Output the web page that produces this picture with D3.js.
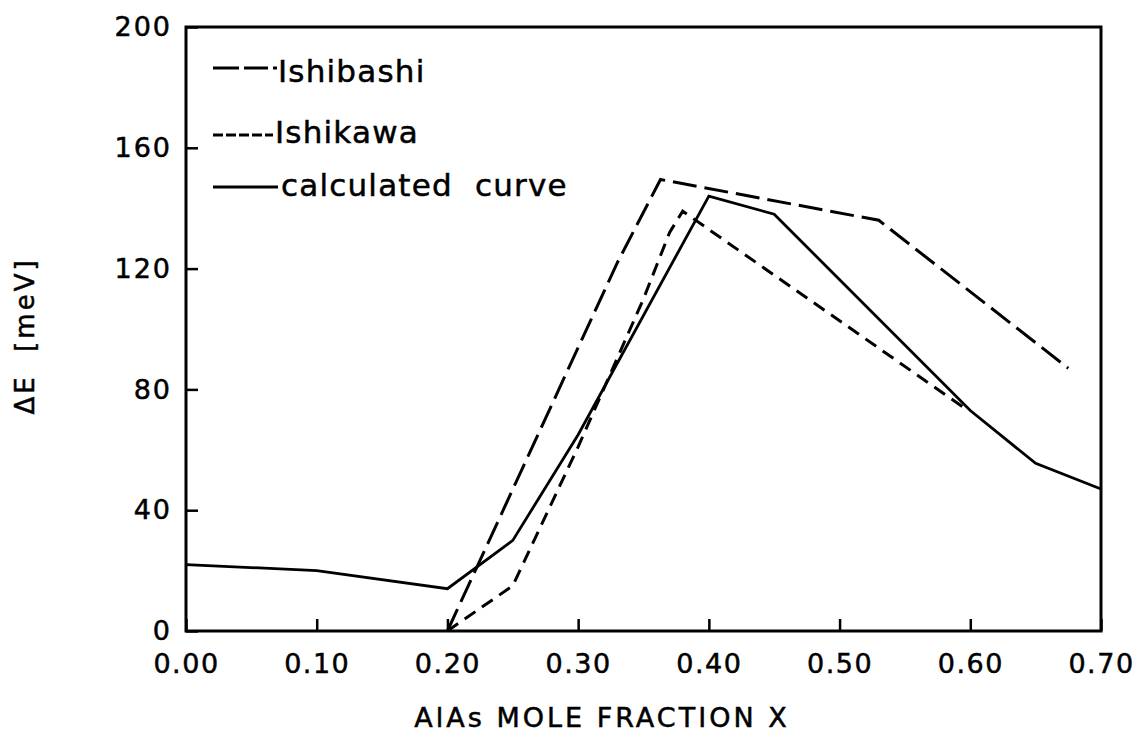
<!DOCTYPE html>
<html>
<head>
<meta charset="utf-8">
<script src="https://cdn.jsdelivr.net/npm/d3@7"></script>
<style>
  html, body { margin: 0; padding: 0; background: #fff; }
  svg { display: block; font-family: "DejaVu Sans", sans-serif; }
  text { fill: #000; stroke: #000; stroke-width: 0.5px; }
</style>
</head>
<body>
<svg id="chart" width="1137" height="743"></svg>
<script>
// AlAs mole fraction (x) and band offset ΔE [meV]
const xTicks = [0.00, 0.10, 0.20, 0.30, 0.40, 0.50, 0.60, 0.70];
const yTicks = [0, 40, 80, 120, 160, 200];

const calcX = [0.00, 0.10, 0.20, 0.25, 0.30, 0.40, 0.45, 0.60, 0.65, 0.70];
const calcY = [22, 20, 14, 30, 65, 144, 138, 73, 55.5, 47];

const ishibashiX = [0.20, 0.33, 0.363, 0.53, 0.675];
const ishibashiY = [0, 122, 149.5, 136, 87];

const ishikawaX = [0.20, 0.25, 0.30, 0.35, 0.37, 0.38, 0.595];
const ishikawaY = [0, 15, 61, 110, 132, 139, 74];

const seriesNames = ["Ishibashi", "Ishikawa", "calculated curve"];

const svg = d3.select("#chart");
const plotLeft = 186, plotRight = 1101, plotTop = 27, plotBottom = 631;

const x = d3.scaleLinear().domain([0, 0.7]).range([plotLeft, plotRight]);
const y = d3.scaleLinear().domain([0, 200]).range([plotBottom, plotTop]);

// y axis: ticks point inward, labels outside
const yAxis = svg.append("g")
  .attr("transform", `translate(${plotLeft},0)`)
  .call(d3.axisLeft(y).tickValues(yTicks).tickSize(-12).tickPadding(14).tickFormat(d3.format("d")));
yAxis.select(".domain").remove();
yAxis.selectAll("line").attr("stroke", "#000").attr("stroke-width", 2.5);
yAxis.selectAll("text")
  .attr("font-size", 27).attr("letter-spacing", 2)
  .attr("font-family", "DejaVu Sans");

// x axis
const xAxis = svg.append("g")
  .attr("transform", `translate(0,${plotBottom})`)
  .call(d3.axisBottom(x).tickValues(xTicks).tickSize(-12).tickPadding(23).tickFormat(d3.format(".2f")));
xAxis.select(".domain").remove();
xAxis.selectAll("line").attr("stroke", "#000").attr("stroke-width", 2.5);
xAxis.selectAll("text")
  .attr("font-size", 27).attr("letter-spacing", 1.5)
  .attr("font-family", "DejaVu Sans");

// plot frame
svg.append("rect")
  .attr("x", plotLeft).attr("y", plotTop)
  .attr("width", plotRight - plotLeft).attr("height", plotBottom - plotTop)
  .attr("fill", "none").attr("stroke", "#000").attr("stroke-width", 3);

const line = d3.line().x(d => x(d[0])).y(d => y(d[1]));

function drawSeries(xs, ys, dash, width) {
  svg.append("path")
    .datum(xs.map((v, i) => [v, ys[i]]))
    .attr("d", line)
    .attr("fill", "none")
    .attr("stroke", "#000")
    .attr("stroke-width", width)
    .attr("stroke-linejoin", "miter")
    .attr("stroke-dasharray", dash);
}

drawSeries(ishibashiX, ishibashiY, "24,8", 3);
drawSeries(ishikawaX, ishikawaY, "13,8", 3);
drawSeries(calcX, calcY, null, 2.8);

// legend
const legend = [
  { name: seriesNames[0], y: 68, dash: "26,5,24,5,5,0", x2: 277, tx: 278, ty: 82 },
  { name: seriesNames[1], y: 135, dash: "10,3", x2: 273, tx: 275, ty: 143 },
  { name: seriesNames[2], y: 187, dash: null, x2: 278, tx: 281, ty: 196 }
];
legend.forEach(l => {
  svg.append("line")
    .attr("x1", 213).attr("x2", l.x2)
    .attr("y1", l.y).attr("y2", l.y)
    .attr("stroke", "#000").attr("stroke-width", 3)
    .attr("stroke-dasharray", l.dash);
  svg.append("text")
    .attr("x", l.tx).attr("y", l.ty)
    .attr("font-size", 31).attr("letter-spacing", 1.2)
    .style("white-space", "pre")
    .text(l.name === "calculated curve" ? "calculated  curve" : l.name);
});

// axis titles
svg.append("text")
  .attr("x", 602).attr("y", 727)
  .attr("text-anchor", "middle")
  .attr("font-size", 27).attr("letter-spacing", 3)
  .text("AlAs MOLE FRACTION X");

svg.append("text")
  .attr("transform", "translate(34,336) rotate(-90)")
  .attr("text-anchor", "middle")
  .attr("font-size", 26).attr("letter-spacing", 3)
  .style("white-space", "pre")
  .text("ΔE  [meV]");
</script>
</body>
</html>
